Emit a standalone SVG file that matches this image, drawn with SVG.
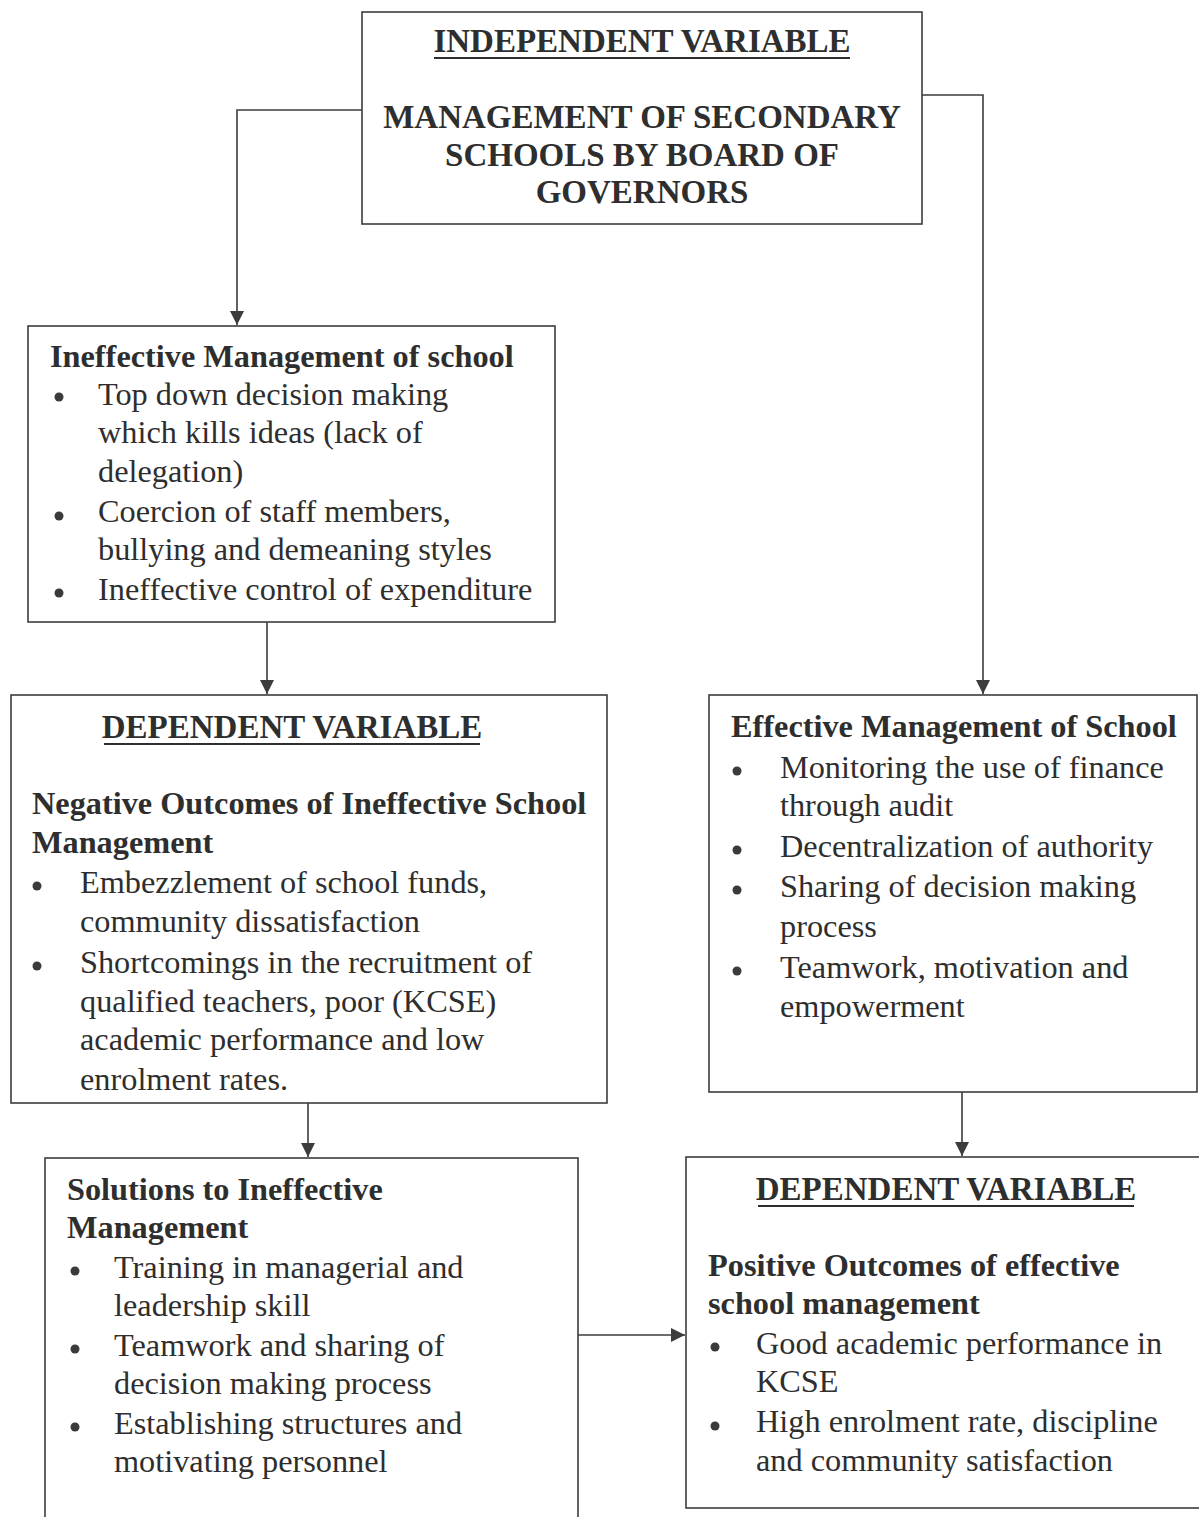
<svg xmlns="http://www.w3.org/2000/svg" width="1199" height="1517" viewBox="0 0 1199 1517" font-family="'Liberation Serif', 'Times New Roman', 'DejaVu Serif', serif">
  <defs>
    <style>
      .box { fill: #ffffff; stroke: #3c3c3c; stroke-width: 1.6; }
      .line { fill: none; stroke: #3c3c3c; stroke-width: 1.6; }
      text { font-family: 'Liberation Serif', 'Times New Roman', 'DejaVu Serif', serif; fill: #2e2e2e; }
      .cap { font-size: 33px; font-weight: bold; }
      .head { font-size: 32.3px; font-weight: bold; }
      .body { font-size: 32.3px; }
      .ul { stroke: #2e2e2e; stroke-width: 2; }
      .dot { fill: #3a3a3a; }
    </style>
    <marker id="arrow" viewBox="0 0 10 10" refX="10" refY="5" markerWidth="14" markerHeight="14" markerUnits="userSpaceOnUse" orient="auto">
      <path d="M0,0 L10,5 L0,10 z" fill="#3c3c3c"/>
    </marker>
  </defs>
  <rect width="1199" height="1517" fill="#ffffff"/>

  <!-- connectors -->
  <g id="connectors">
    <path class="line" d="M362,110 H237 V325" marker-end="url(#arrow)"/>
    <path class="line" d="M922,95 H983 V694" marker-end="url(#arrow)"/>
    <path class="line" d="M267,622 V694" marker-end="url(#arrow)"/>
    <path class="line" d="M308,1103 V1157" marker-end="url(#arrow)"/>
    <path class="line" d="M962,1092 V1156" marker-end="url(#arrow)"/>
    <path class="line" d="M578,1335 H685" marker-end="url(#arrow)"/>
  </g>

  <!-- independent variable -->
  <g id="independent">
    <rect class="box" x="362" y="12" width="560" height="212"/>
    <text class="cap" x="642" y="52" text-anchor="middle">INDEPENDENT VARIABLE</text>
    <line class="ul" x1="434" y1="58" x2="850" y2="58"/>
    <text class="cap" x="642" y="128" text-anchor="middle">MANAGEMENT OF SECONDARY</text>
    <text class="cap" x="642" y="166" text-anchor="middle">SCHOOLS BY BOARD OF</text>
    <text class="cap" x="642" y="203" text-anchor="middle">GOVERNORS</text>
  </g>

  <!-- ineffective management -->
  <g id="ineffective">
    <rect class="box" x="28" y="326" width="527" height="296"/>
    <text class="head" x="50" y="367">Ineffective Management of school</text>
    <circle class="dot" cx="59" cy="397" r="4.5"/>
    <text class="body" x="98" y="405">Top down decision making</text>
    <text class="body" x="98" y="443">which kills ideas (lack of</text>
    <text class="body" x="98" y="482">delegation)</text>
    <circle class="dot" cx="59" cy="516" r="4.5"/>
    <text class="body" x="98" y="522">Coercion of staff members,</text>
    <text class="body" x="98" y="560">bullying and demeaning styles</text>
    <circle class="dot" cx="59" cy="593" r="4.5"/>
    <text class="body" x="98" y="600">Ineffective control of expenditure</text>
  </g>

  <!-- negative outcomes -->
  <g id="negative">
    <rect class="box" x="11" y="695" width="596" height="408"/>
    <text class="cap" x="292" y="738" text-anchor="middle">DEPENDENT VARIABLE</text>
    <line class="ul" x1="104" y1="744" x2="480" y2="744"/>
    <text class="head" x="32" y="814">Negative Outcomes of Ineffective School</text>
    <text class="head" x="32" y="853">Management</text>
    <circle class="dot" cx="37" cy="886" r="4.5"/>
    <text class="body" x="80" y="893">Embezzlement of school funds,</text>
    <text class="body" x="80" y="932">community dissatisfaction</text>
    <circle class="dot" cx="37" cy="966" r="4.5"/>
    <text class="body" x="80" y="973">Shortcomings in the recruitment of</text>
    <text class="body" x="80" y="1012">qualified teachers, poor (KCSE)</text>
    <text class="body" x="80" y="1050">academic performance and low</text>
    <text class="body" x="80" y="1090">enrolment rates.</text>
  </g>

  <!-- solutions -->
  <g id="solutions">
    <rect class="box" x="45" y="1158" width="533" height="380"/>
    <text class="head" x="67" y="1200">Solutions to Ineffective</text>
    <text class="head" x="67" y="1238">Management</text>
    <circle class="dot" cx="75" cy="1271" r="4.5"/>
    <text class="body" x="114" y="1278">Training in managerial and</text>
    <text class="body" x="114" y="1316">leadership skill</text>
    <circle class="dot" cx="75" cy="1349" r="4.5"/>
    <text class="body" x="114" y="1356">Teamwork and sharing of</text>
    <text class="body" x="114" y="1394">decision making process</text>
    <circle class="dot" cx="75" cy="1427" r="4.5"/>
    <text class="body" x="114" y="1434">Establishing structures and</text>
    <text class="body" x="114" y="1472">motivating personnel</text>
  </g>

  <!-- effective management -->
  <g id="effective">
    <rect class="box" x="709" y="695" width="488" height="397"/>
    <text class="head" x="731" y="737">Effective Management of School</text>
    <circle class="dot" cx="737" cy="771" r="4.5"/>
    <text class="body" x="780" y="778">Monitoring the use of finance</text>
    <text class="body" x="780" y="816">through audit</text>
    <circle class="dot" cx="737" cy="850" r="4.5"/>
    <text class="body" x="780" y="857">Decentralization of authority</text>
    <circle class="dot" cx="737" cy="890" r="4.5"/>
    <text class="body" x="780" y="897">Sharing of decision making</text>
    <text class="body" x="780" y="937">process</text>
    <circle class="dot" cx="737" cy="971" r="4.5"/>
    <text class="body" x="780" y="978">Teamwork, motivation and</text>
    <text class="body" x="780" y="1017">empowerment</text>
  </g>

  <!-- positive outcomes -->
  <g id="positive">
    <rect class="box" x="686" y="1157" width="520" height="351"/>
    <text class="cap" x="946" y="1200" text-anchor="middle">DEPENDENT VARIABLE</text>
    <line class="ul" x1="758" y1="1206" x2="1134" y2="1206"/>
    <text class="head" x="708" y="1276">Positive Outcomes of effective</text>
    <text class="head" x="708" y="1314">school management</text>
    <circle class="dot" cx="715" cy="1347" r="4.5"/>
    <text class="body" x="756" y="1354">Good academic performance in</text>
    <text class="body" x="756" y="1392">KCSE</text>
    <circle class="dot" cx="715" cy="1426" r="4.5"/>
    <text class="body" x="756" y="1432">High enrolment rate, discipline</text>
    <text class="body" x="756" y="1471">and community satisfaction</text>
  </g>
</svg>
